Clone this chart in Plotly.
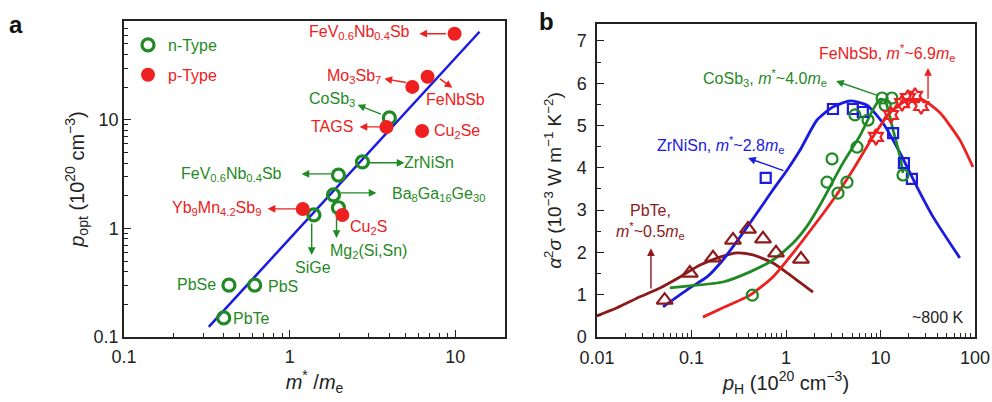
import plotly.graph_objects as go

GREEN = "#1f8a24"
RED = "#ee2020"
BLUE = "#1a1ae0"
DARKRED = "#8c1a1a"
AXIS = "#222222"
FONT = "Liberation Sans, Arial, sans-serif"

# ---------------- panel a: optimal carrier concentration vs effective mass
n_names = ["CoSb3", "ZrNiSn", "FeV0.6Nb0.4Sb", "Ba8Ga16Ge30", "Mg2(Si,Sn)",
           "SiGe", "PbSe", "PbS", "PbTe"]
n_mass = [4.0, 2.75, 1.97, 1.84, 1.97, 1.40, 0.43, 0.615, 0.40]
n_popt = [10.4, 4.1, 3.1, 2.04, 1.55, 1.33, 0.30, 0.30, 0.15]

p_names = ["FeV0.6Nb0.4Sb", "Mo3Sb7", "FeNbSb", "TAGS", "Cu2Se",
           "Yb9Mn4.2Sb9", "Cu2S"]
p_mass = [9.9, 5.5, 6.8, 3.84, 6.3, 1.2, 2.08]
p_popt = [62, 20.1, 24.9, 8.6, 7.9, 1.51, 1.33]

fit_mass = [0.325, 14.0]
fit_popt = [0.124, 64.7]

# ---------------- panel b: power factor vs Hall carrier concentration (~800 K)
zrnisn_pH = [0.61, 3.14, 5.1, 6.5, 13.6, 17.7, 21.5]
zrnisn_pf = [3.76, 5.39, 5.39, 5.32, 4.82, 4.11, 3.74]
zrnisn_fit_pH = [0.050, 0.096, 0.146, 0.215, 0.326, 0.493, 0.728, 1.03, 1.41,
                 2.13, 3.14, 4.75, 7.2, 10.6, 16.1, 24.3, 36, 69]
zrnisn_fit_pf = [0.71, 1.16, 1.42, 1.82, 2.36, 2.93, 3.48, 3.95, 4.42,
                 5.13, 5.44, 5.58, 5.48, 5.06, 4.35, 3.55, 2.84, 1.87]

cosb3_pH = [0.44, 2.72, 3.07, 3.55, 4.42, 5.64, 5.37, 7.38, 10.4, 11.2, 13.2, 17.3]
cosb3_pf = [0.99, 3.66, 4.21, 3.40, 3.66, 4.49, 5.25, 5.13, 5.65, 5.48, 5.65, 3.83]
cosb3_fit_pH = [0.059, 0.096, 0.215, 0.416, 0.728, 1.19, 1.67, 2.29, 4.0,
                6.07, 8.3, 9.9, 11.2, 13.6, 16.1, 17.3]
cosb3_fit_pf = [1.16, 1.21, 1.30, 1.54, 1.82, 2.22, 2.62, 3.12, 4.11,
                4.76, 5.37, 5.62, 5.58, 4.89, 4.26, 3.88]

fenbsb_pH = [8.95, 12.9, 16.9, 19.5, 23.2, 26.9]
fenbsb_pf = [4.73, 5.25, 5.53, 5.65, 5.70, 5.46]
fenbsb_fit_pH = [0.132, 0.215, 0.416, 0.728, 1.19, 1.93, 3.14, 5.1, 8.3,
                 12.6, 19.1, 28.2, 42.6, 69, 95]
fenbsb_fit_pf = [0.47, 0.69, 0.99, 1.42, 1.99, 2.60, 3.24, 3.95, 4.73,
                 5.30, 5.60, 5.60, 5.30, 4.66, 4.02]

pbte_pH = [0.052, 0.096, 0.169, 0.275, 0.396, 0.571, 0.784, 1.44]
pbte_pf = [0.87, 1.51, 1.87, 2.29, 2.55, 2.32, 1.99, 1.84]
pbte_fit_pH = [0.01, 0.0163, 0.0285, 0.0465, 0.0755, 0.123, 0.200, 0.303,
               0.447, 0.728, 1.10, 1.93]
pbte_fit_pf = [0.50, 0.69, 0.95, 1.16, 1.42, 1.70, 1.89, 1.99,
               1.94, 1.75, 1.47, 1.06]

fig = go.Figure()

# panel a traces
fig.add_trace(go.Scatter(x=fit_mass, y=fit_popt, mode="lines",
                         line=dict(color=BLUE, width=2.5), showlegend=False,
                         xaxis="x", yaxis="y"))
fig.add_trace(go.Scatter(x=n_mass, y=n_popt, mode="markers",
                         name="<span style='color:%s'>n-Type</span>" % GREEN,
                         text=n_names, legendgroup="n",
                         marker=dict(symbol="circle-open", size=12, color=GREEN,
                                     line=dict(color=GREEN, width=3.2)),
                         xaxis="x", yaxis="y"))
fig.add_trace(go.Scatter(x=p_mass, y=p_popt, mode="markers",
                         name="<span style='color:%s'>p-Type</span>" % RED,
                         text=p_names, legendgroup="p",
                         marker=dict(symbol="circle", size=14, color=RED),
                         xaxis="x", yaxis="y"))

# panel b traces
def curve(x, y, color):
    fig.add_trace(go.Scatter(x=x, y=y, mode="lines", showlegend=False,
                             line=dict(color=color, width=2.8, shape="spline",
                                       smoothing=0.6),
                             xaxis="x2", yaxis="y2"))

def points(x, y, color, symbol, size):
    fig.add_trace(go.Scatter(x=x, y=y, mode="markers", showlegend=False,
                             marker=dict(symbol=symbol, size=size, color=color,
                                         line=dict(color=color, width=2.2)),
                             xaxis="x2", yaxis="y2"))

curve(pbte_fit_pH, pbte_fit_pf, DARKRED)
curve(zrnisn_fit_pH, zrnisn_fit_pf, BLUE)
curve(cosb3_fit_pH, cosb3_fit_pf, GREEN)
curve(fenbsb_fit_pH, fenbsb_fit_pf, RED)
points(pbte_pH, pbte_pf, DARKRED, "triangle-up-open", 14)
points(zrnisn_pH, zrnisn_pf, BLUE, "square-open", 10)
points(cosb3_pH, cosb3_pf, GREEN, "circle-open", 11)
points(fenbsb_pH, fenbsb_pf, RED, "hexagram-open", 12)

annotations = []

def label(text, color, lx, ly, xref="x", yref="y", size=16, xanchor="center"):
    annotations.append(dict(text=text, x=lx, y=ly, xref=xref, yref=yref,
                            showarrow=False, xanchor=xanchor, yanchor="middle",
                            font=dict(family=FONT, size=size, color=color)))

def arrow(color, tx, ty, hx, hy, xref="x", yref="y"):
    annotations.append(dict(text="", x=hx, y=hy, ax=tx, ay=ty, xref=xref,
                            yref=yref, axref=xref, ayref=yref, showarrow=True,
                            arrowhead=2, arrowsize=1.1, arrowwidth=1.4,
                            arrowcolor=color, standoff=0, startstandoff=0))

# panel a labels (log10 positions on both axes)
label("FeV<sub>0.6</sub>Nb<sub>0.4</sub>Sb", RED, 0.422, 1.80)
arrow(RED, 0.952, 1.793, 0.783, 1.793)
label("Mo<sub>3</sub>Sb<sub>7</sub>", RED, 0.386, 1.396)
arrow(RED, 0.711, 1.341, 0.572, 1.378)
label("FeNbSb", RED, 1.0, 1.184)
arrow(RED, 0.898, 1.387, 0.982, 1.295)
label("CoSb<sub>3</sub>", GREEN, 0.253, 1.184)
arrow(GREEN, 0.560, 1.046, 0.410, 1.138)
label("TAGS", RED, 0.253, 0.935)
arrow(RED, 0.554, 0.935, 0.422, 0.935)
label("Cu<sub>2</sub>Se", RED, 1.012, 0.889)
label("ZrNiSn", GREEN, 0.843, 0.604)
arrow(GREEN, 0.470, 0.604, 0.693, 0.604)
label("FeV<sub>0.6</sub>Nb<sub>0.4</sub>Sb", GREEN, -0.349, 0.493)
arrow(GREEN, 0.259, 0.502, 0.072, 0.502)
label("Ba<sub>8</sub>Ga<sub>16</sub>Ge<sub>30</sub>", GREEN, 0.898, 0.309)
arrow(GREEN, 0.301, 0.327, 0.524, 0.327)
label("Yb<sub>9</sub>Mn<sub>4.2</sub>Sb<sub>9</sub>", RED, -0.440, 0.180)
arrow(RED, 0.060, 0.180, -0.133, 0.180)
label("Cu<sub>2</sub>S", RED, 0.476, 0.005)
label("Mg<sub>2</sub>(Si,Sn)", GREEN, 0.476, -0.217)
arrow(GREEN, 0.283, 0.106, 0.283, -0.088)
label("SiGe", GREEN, 0.139, -0.364)
arrow(GREEN, 0.133, 0.060, 0.133, -0.244)
label("PbS", GREEN, -0.042, -0.539)
label("PbSe", GREEN, -0.560, -0.521)
label("PbTe", GREEN, -0.229, -0.825)

# panel b labels (log10 x, linear y)
MS = "<i>m</i><sup>*</sup>"
ME = "<i>m</i><sub>e</sub>"
label("FeNbSb, " + MS + "~6.9" + ME, RED, 1.069, 6.71, "x2", "y2")
arrow(RED, 1.503, 5.60, 1.503, 6.36, "x2", "y2")
label("CoSb<sub>3</sub>, " + MS + "~4.0" + ME, GREEN, -0.222, 6.12, "x2", "y2")
arrow(GREEN, 0.984, 5.70, 0.529, 6.05, "x2", "y2")
label("ZrNiSn, " + MS + "~2.8" + ME, BLUE, -0.688, 4.54, "x2", "y2")
arrow(BLUE, -0.011, 3.92, -0.402, 4.23, "x2", "y2")
label("PbTe,<br>" + MS + "~0.5" + ME, DARKRED, -1.429, 2.72, "x2", "y2")
arrow(DARKRED, -1.429, 1.11, -1.429, 2.10, "x2", "y2")
label("~800 K", "#222222", 1.894, 0.45, "x2", "y2", xanchor="right")

# panel letters
annotations.append(dict(text="<b>a</b>", x=16 / 992, y=1 - 25 / 402, xref="paper",
                        yref="paper", showarrow=False, xanchor="center",
                        yanchor="middle", font=dict(family=FONT, size=24, color="#111")))
annotations.append(dict(text="<b>b</b>", x=546 / 992, y=1 - 22 / 402, xref="paper",
                        yref="paper", showarrow=False, xanchor="center",
                        yanchor="middle", font=dict(family=FONT, size=24, color="#111")))

def log_axis(domain, rng, anchor, title, standoff, label_gap):
    return dict(type="log", range=rng, domain=domain, anchor=anchor,
                showline=True, linecolor=AXIS, linewidth=1.5, mirror=True,
                ticks="inside", ticklen=7, tickwidth=1.2, tickcolor=AXIS,
                dtick=1, tick0=0, showgrid=False, zeroline=False,
                minor=dict(ticks="inside", ticklen=4, tickwidth=1,
                           tickcolor=AXIS, dtick="D1", showgrid=False),
                tickfont=dict(family=FONT, size=18, color="#222"),
                ticklabelstandoff=label_gap,
                title=dict(text=title, standoff=standoff,
                           font=dict(family=FONT, size=20, color="#222")),
                automargin=False)

ya_dom = [65 / 402, 381 / 402]
yb_dom = [65 / 402, 378 / 402]

fig.update_layout(
    width=992, height=402,
    margin=dict(l=0, r=0, t=0, b=0),
    paper_bgcolor="white", plot_bgcolor="white",
    font=dict(family=FONT),
    xaxis=log_axis([124 / 992, 505 / 992], [-1, 1.3], "y",
                   "<i>m</i><sup>*</sup> /<i>m</i><sub>e</sub>", 6, 3),
    yaxis=log_axis(ya_dom, [-1, 1.91], "x",
                   "<i>p</i><sub>opt</sub> (10<sup>20</sup> cm<sup>−3</sup>)", 4, 0),
    xaxis2=log_axis([597 / 992, 975 / 992], [-2, 2], "y2",
                    "<i>p</i><sub>H</sub> (10<sup>20</sup> cm<sup>−3</sup>)", 6, 4),
    yaxis2=dict(range=[0, 7.4], domain=yb_dom, anchor="x2",
                showline=True, linecolor=AXIS, linewidth=1.5, mirror=True,
                ticks="inside", ticklen=7, tickwidth=1.2, tickcolor=AXIS,
                dtick=1, tick0=0, showgrid=False, zeroline=False,
                minor=dict(ticks="inside", ticklen=4, tickwidth=1,
                           tickcolor=AXIS, dtick=0.5, showgrid=False),
                tickfont=dict(family=FONT, size=18, color="#222"),
                ticklabelstandoff=5,
                title=dict(text="<i>α</i><sup>2</sup><i>σ</i> (10<sup>−3</sup> W m<sup>−1</sup> K<sup>−2</sup>)",
                           standoff=10, font=dict(family=FONT, size=19, color="#222")),
                automargin=False),
    legend=dict(x=128 / 992, y=1 - 28 / 402, xanchor="left", yanchor="top",
                bgcolor="rgba(0,0,0,0)", tracegroupgap=6, itemwidth=30,
                font=dict(family=FONT, size=16, color=GREEN)),
    annotations=annotations,
)

fig.write_html("out.html")
